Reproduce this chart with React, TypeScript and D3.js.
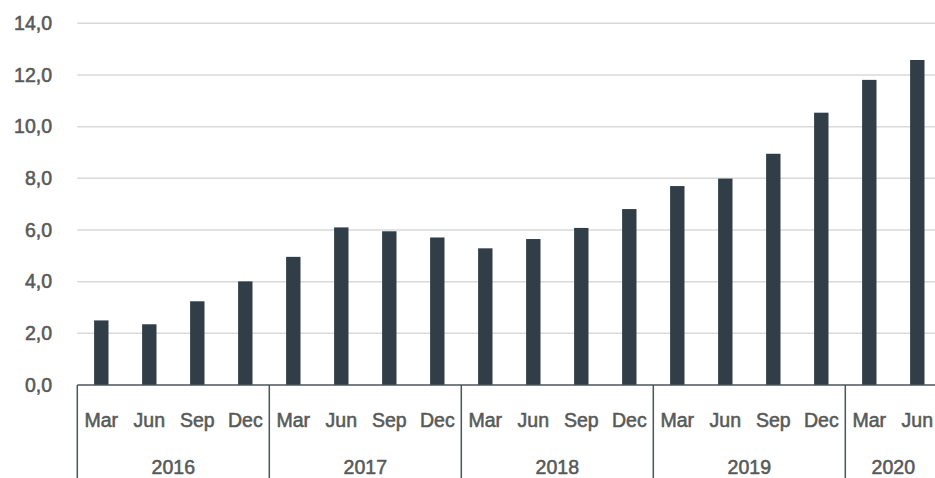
import React, { useEffect, useRef } from "react";
import * as d3 from "d3";

const years = ["2016", "2017", "2018", "2019", "2020"];
const quarters = [
  ["Mar", "Jun", "Sep", "Dec"],
  ["Mar", "Jun", "Sep", "Dec"],
  ["Mar", "Jun", "Sep", "Dec"],
  ["Mar", "Jun", "Sep", "Dec"],
  ["Mar", "Jun"],
];
const values = [
  2.5, 2.35, 3.24, 4.01,
  4.96, 6.1, 5.95, 5.71,
  5.29, 5.65, 6.08, 6.81,
  7.7, 7.99, 8.95, 10.54,
  11.81, 12.58,
];
const yTicks = [0, 2, 4, 6, 8, 10, 12, 14];

export default function App() {
  const ref = useRef<SVGSVGElement>(null);

  useEffect(() => {
    const width = 935;
    const height = 478;
    const left = 77.3;
    const right = 941.3;
    const top = 23.3;
    const bottom = 385;
    const font = "'Liberation Sans', Arial, sans-serif";
    const textColor = "#595959";
    const fs = "19.5px";

    const svg = d3.select(ref.current).attr("width", width).attr("height", height);
    svg.selectAll("*").remove();

    // shared look for all labels (regular weight + thin stroke ~ medium)
    const label = (sel: any) =>
      sel
        .style("font-family", font)
        .style("font-size", fs)
        .attr("fill", textColor)
        .attr("stroke", textColor)
        .attr("stroke-width", 0.55);

    const rows: { key: string; year: string; q: string; v: number }[] = [];
    let i = 0;
    years.forEach((yr, yi) => {
      quarters[yi].forEach((q) => {
        rows.push({ key: yr + "-" + q, year: yr, q: q, v: values[i] });
        i++;
      });
    });

    const x = d3.scaleBand()
      .domain(rows.map((d) => d.key))
      .range([left, right])
      .paddingInner(0.7)
      .paddingOuter(0.35);
    const y = d3.scaleLinear().domain([0, 14]).range([bottom, top]);

    const loc = d3.formatLocale({ decimal: ",", thousands: ".", grouping: [3], currency: ["", ""] });
    const fmt = loc.format(".1f");

    // grid lines
    svg.append("g")
      .selectAll("line")
      .data(yTicks.filter((t) => t > 0))
      .enter()
      .append("line")
      .attr("x1", left)
      .attr("x2", width)
      .attr("y1", (d) => y(d))
      .attr("y2", (d) => y(d))
      .attr("stroke", "#d9d9d9")
      .attr("stroke-width", 1.5);

    // y labels
    svg.append("g")
      .selectAll("text")
      .data(yTicks)
      .enter()
      .append("text")
      .attr("x", 52)
      .attr("y", (d) => y(d))
      .attr("dy", "0.35em")
      .attr("text-anchor", "end")
      .call(label)
      .text((d) => fmt(d));

    // bars
    svg.append("g")
      .selectAll("rect")
      .data(rows)
      .enter()
      .append("rect")
      .attr("x", (d) => x(d.key)!)
      .attr("y", (d) => y(d.v))
      .attr("width", x.bandwidth())
      .attr("height", (d) => y(0) - y(d.v))
      .attr("fill", "#323e47");

    // axis line
    svg.append("line")
      .attr("x1", left)
      .attr("x2", width)
      .attr("y1", bottom)
      .attr("y2", bottom)
      .attr("stroke", "#4a545b")
      .attr("stroke-width", 1.5);

    // quarter labels
    svg.append("g")
      .selectAll("text")
      .data(rows)
      .enter()
      .append("text")
      .attr("x", (d) => x(d.key)! + x.bandwidth() / 2)
      .attr("y", 427)
      .attr("text-anchor", "middle")
      .call(label)
      .text((d) => d.q);

    // year groups
    const half = (x.step() - x.bandwidth()) / 2;
    const groups = years.map((yr, yi) => {
      const keys = quarters[yi].map((q) => yr + "-" + q);
      const x0 = x(keys[0])! - half;
      const x1 = x(keys[keys.length - 1])! + x.bandwidth() + half;
      return { yr, x0, x1 };
    });

    svg.append("g")
      .selectAll("line")
      .data(groups)
      .enter()
      .append("line")
      .attr("x1", (d) => d.x0)
      .attr("x2", (d) => d.x0)
      .attr("y1", bottom)
      .attr("y2", height)
      .attr("stroke", "#4a545b")
      .attr("stroke-width", 1.5);

    svg.append("g")
      .selectAll("text")
      .data(groups)
      .enter()
      .append("text")
      .attr("x", (d) => (d.x0 + d.x1) / 2)
      .attr("y", 474)
      .attr("text-anchor", "middle")
      .call(label)
      .text((d) => d.yr);
  }, []);

  return (
    <svg ref={ref} style={{ position: "absolute", left: 0, top: 0, display: "block" }} />
  );
}
